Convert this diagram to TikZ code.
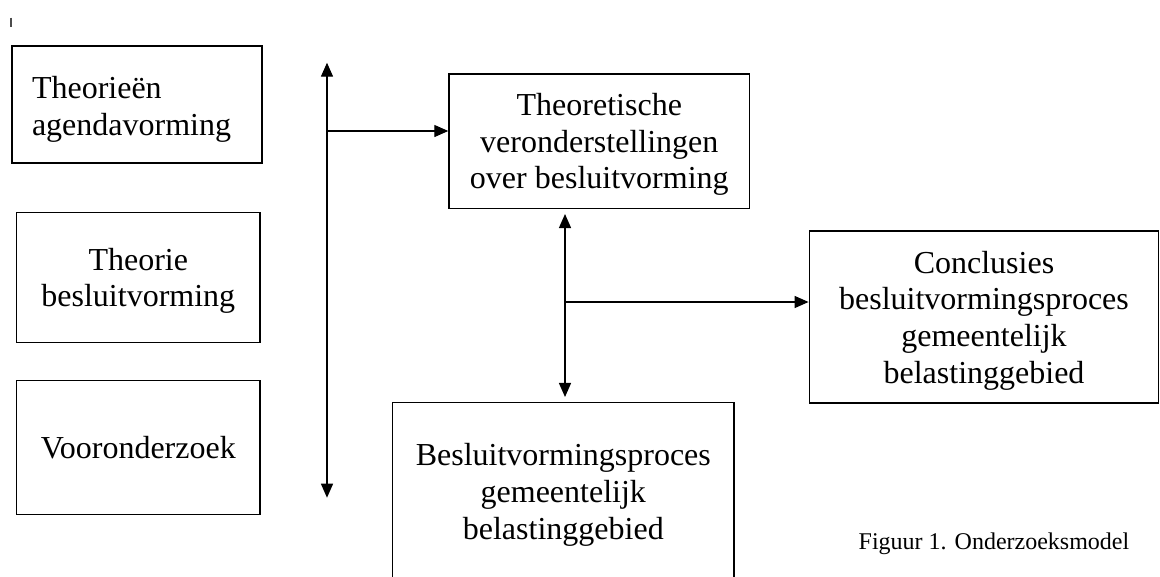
\documentclass[tikz,border=0pt]{standalone}
\usepackage{fontspec}
\setmainfont{Liberation Serif}
\usetikzlibrary{arrows.meta}
\newdimen\upx
\upx=0.75pt
\begin{document}
\begin{tikzpicture}[x=0.75pt,y=-0.75pt,
  box/.style={draw,line width=1pt,inner sep=0pt,align=center,text depth=0pt,
    font=\fontsize{24pt}{27.5pt}\selectfont},
  link/.style={line width=1pt,-{Triangle[length=10.5pt,width=9pt]}},
  biline/.style={line width=1pt,{Triangle[length=10.5pt,width=9pt]}-{Triangle[length=10.5pt,width=9pt]}}]
\useasboundingbox (0,0) rectangle (1160,576);
\clip (0,0) rectangle (1160,576);

% small stray mark in the corner
\draw[gray!60!black,line width=1.1pt] (11,17.5) -- (11,26.5);

% input boxes on the left
\node[box,minimum width=250\upx,minimum height=117\upx,
  text width=210\upx,inner xsep=20\upx,align=left,text depth=25pt]
  (theo) at (137,104.5) {Theorieën\\agendavorming};
\node[box,minimum width=243.3\upx,minimum height=130\upx]
  (besl) at (138.3,277.3) {Theorie\\besluitvorming};
\node[box,minimum width=243.3\upx,minimum height=133.6\upx]
  (voor) at (138.3,447.5) {Vooronderzoek};

% central and right boxes
\node[box,minimum width=300.7\upx,minimum height=134.3\upx]
  (veron) at (599.3,141.2) {Theoretische\\veronderstellingen\\over besluitvorming};
\node[box,minimum width=349.5\upx,minimum height=172\upx]
  (concl) at (984,317) {Conclusies\\besluitvormingsproces\\gemeentelijk\\belastinggebied};
\node[box,minimum width=341.3\upx,minimum height=177.3\upx]
  (proces) at (563.3,491.3) {Besluitvormingsproces\\gemeentelijk\\belastinggebied};

% caption
\node[anchor=base,font=\fontsize{18pt}{21pt}\selectfont,inner sep=0pt]
  (cap) at (994,549) {Figuur 1. Onderzoeksmodel};

% left bracket arrow and its branch
\coordinate (ltop) at (327,62.7);
\coordinate (lbot) at (327,497.7);
\coordinate (lmid) at (327,131);
\draw[biline] (ltop) -- (lbot);
\draw[link] (lmid) -- (veron.west |- lmid);

% middle arrow and its branch
\coordinate (mx) at (565,302);
\draw[biline,shorten <=5\upx,shorten >=5\upx] (veron.south -| mx) -- (proces.north -| mx);
\draw[link] (mx) -- (concl.west |- mx);
\end{tikzpicture}
\end{document}
